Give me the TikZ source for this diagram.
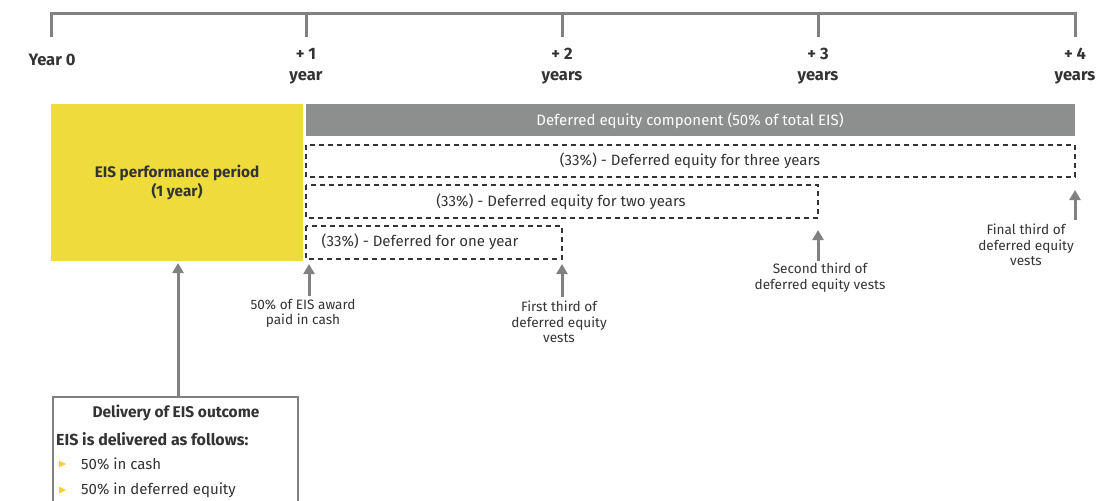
\documentclass[tikz,border=0pt]{standalone}
\usepackage{fontspec}
\setmainfont{Fira Sans}
\usetikzlibrary{arrows.meta}
\definecolor{eisyellow}{HTML}{EEDC3C}
\definecolor{bargray}{HTML}{8D8F8F}
\definecolor{linegray}{HTML}{7F8183}
\definecolor{txtgray}{HTML}{333333}
\tikzset{
  yearlbl/.style={font=\fontsize{16.5}{21}\selectfont\bfseries, text=txtgray, align=center},
  deferbox/.style={draw=txtgray, line width=1.4pt, dash pattern=on 5pt off 4pt},
  defertxt/.style={font=\fontsize{15}{17}\selectfont, text=txtgray},
  notelbl/.style={font=\fontsize{13.6}{15.5}\selectfont, text=txtgray, align=center, inner sep=1pt},
  uparrow/.style={draw=linegray, line width=3pt, -{Triangle[width=11pt,length=10pt]}}
}
\begin{document}
\begin{tikzpicture}[x=1pt,y=-1pt]
  \useasboundingbox (0,0) rectangle (1112,501);
  % Draw the time line with its ticks
  \draw[linegray, line width=3pt] (51,13) -- (1075,13);
  \foreach \x in {51,306,562,818,1075}{
    \draw[linegray, line width=3pt] (\x,12) -- (\x,37);
  }
  \node[yearlbl] (y0) at (52,60) {Year 0};
  \node[yearlbl] (y1) at (306,66) {+ 1\\year};
  \node[yearlbl] (y2) at (562,66) {+ 2\\years};
  \node[yearlbl] (y3) at (818,66) {+ 3\\years};
  \node[yearlbl] (y4) at (1075,66) {+ 4\\years};
  % Performance period and deferred component
  \fill[eisyellow] (51,104) rectangle (303,261);
  \node[font=\fontsize{15.3}{19}\selectfont\bfseries, text=txtgray, align=center] (perf) at (177,182) {EIS performance period\\(1 year)};
  \coordinate (perfbot) at (178,263);
  \fill[bargray] (306,104) rectangle (1075,136);
  \node[defertxt, text=white] (comp) at (690,121) {Deferred equity component (50\% of total EIS)};
  % Draw the three dashed tranches
  \draw[deferbox] (306,145) rectangle (1075,177);
  \node[defertxt] (three) at (690,161) {(33\%) - Deferred equity for three years};
  \draw[deferbox] (306,185) rectangle (818,218);
  \node[defertxt] (two) at (561,202) {(33\%) - Deferred equity for two years};
  \draw[deferbox] (306,226) rectangle (562,259);
  \node[defertxt] (one) at (420,242) {(33\%) - Deferred for one year};
  % Notes with their arrows
  \node[notelbl, anchor=north] (cash) at (303,298) {50\% of EIS award\\paid in cash};
  \node[notelbl, anchor=north] (first) at (559,300) {First third of\\deferred equity\\vests};
  \node[notelbl, anchor=north] (second) at (820,262) {Second third of\\deferred equity vests};
  \node[notelbl, anchor=north] (final) at (1026,223) {Final third of\\deferred equity\\vests};
  \coordinate (cashpt) at (309,264);
  \coordinate (firstpt) at (562,264);
  \coordinate (secondpt) at (818,230);
  \coordinate (finalpt) at (1075,190);
  \draw[uparrow] (309,296) -- (cashpt);
  \draw[uparrow] (562,297) -- (firstpt);
  \draw[uparrow] (818,261) -- (secondpt);
  \draw[uparrow] (1075,220) -- (finalpt);
  % Delivery box, cut by the page edge
  \draw[linegray, line width=2pt] (53,520) -- (53,397) -- (298,397) -- (298,520);
  \node[font=\fontsize{15.5}{17}\selectfont\bfseries, text=txtgray] (deliv) at (176,413) {Delivery of EIS outcome};
  \draw[uparrow] (178,397) -- (perfbot);
  \node[font=\fontsize{16}{18}\selectfont\bfseries, text=txtgray, anchor=west, inner sep=0pt] (follows) at (56,439) {EIS is delivered as follows:};
  \foreach \y/\t [count=\i] in {464/50\% in cash, 490/50\% in deferred equity}{
    \fill[eisyellow!90!orange] (59,\y-3.5) -- (66,\y) -- (59,\y+3.5) -- cycle;
    \node[font=\fontsize{15}{17}\selectfont, text=txtgray, anchor=west, inner sep=0pt] (bul\i) at (81,\y) {\t};
  }
\end{tikzpicture}
\end{document}
